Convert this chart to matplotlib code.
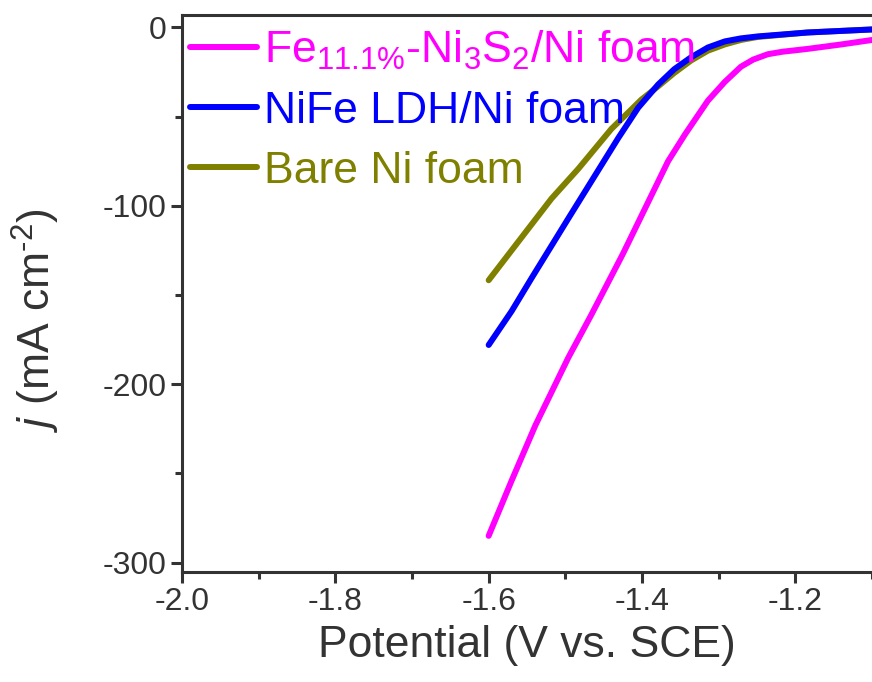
import matplotlib
matplotlib.use("Agg")
import matplotlib.pyplot as plt

# LSV curves (potential in V vs. SCE, j in mA cm^-2)
fe_ni3s2_v = [-1.600, -1.570, -1.539, -1.496, -1.466, -1.425, -1.366, -1.344,
              -1.314, -1.292, -1.271, -1.255, -1.236, -1.217, -1.184, -1.140, -1.100]
fe_ni3s2_j = [-285, -254, -223, -185, -161, -127, -75, -60,
              -41, -30.5, -22, -18, -15, -13.6, -12, -9.5, -7]

nife_v = [-1.600, -1.570, -1.544, -1.496, -1.457, -1.431, -1.405, -1.379,
          -1.358, -1.336, -1.314, -1.292, -1.271, -1.249, -1.184, -1.100]
nife_j = [-178, -159, -140.5, -107, -80, -62, -45, -32,
          -23.4, -16.7, -11.2, -7.8, -6.1, -5.0, -2.8, -1.1]

bare_v = [-1.600, -1.561, -1.518, -1.483, -1.440, -1.414, -1.401, -1.379,
          -1.358, -1.336, -1.314, -1.292, -1.271, -1.249, -1.184, -1.100]
bare_j = [-141.7, -119.9, -95.9, -79.2, -56.9, -46.0, -40.5, -33.0,
          -25.5, -18.5, -13.0, -9.5, -7.0, -5.3, -2.8, -1.1]

labels = [r"Fe$_{11.1\%}$-Ni$_3$S$_2$/Ni foam", "NiFe LDH/Ni foam", "Bare Ni foam"]
colors = ["#ff00ff", "#0000ff", "#808000"]

x_ticks = [-2.0, -1.8, -1.6, -1.4, -1.2]
x_minor = [-1.9, -1.7, -1.5, -1.3, -1.1]
y_ticks = [0, -100, -200, -300]
y_minor = [-50, -150, -250]

plt.rcParams["font.family"] = ["Liberation Sans", "DejaVu Sans"]
plt.rcParams["mathtext.fontset"] = "custom"
plt.rcParams["mathtext.rm"] = "Liberation Sans"
plt.rcParams["mathtext.it"] = "Liberation Sans:italic"
plt.rcParams["axes.unicode_minus"] = False

spine_col = "#333333"

fig = plt.figure(figsize=(8.72, 6.82), dpi=100)
ax = fig.add_axes([0.2087, 0.162, 0.7913, 0.816])

series = [(fe_ni3s2_v, fe_ni3s2_j), (nife_v, nife_j), (bare_v, bare_j)]
# olive first so blue sits on top of it, pink last
for i in [2, 1, 0]:
    v, j = series[i]
    ax.plot(v, j, color=colors[i], lw=4.3, label=labels[i],
            solid_capstyle="round", solid_joinstyle="round")

ax.set_xlim(-2.0, -1.104)
ax.set_ylim(-305, 7)
ax.set_xticks(x_ticks)
ax.set_xticklabels(["%.1f" % t for t in x_ticks])
ax.set_yticks(y_ticks)
ax.set_xticks(x_minor, minor=True)
ax.set_yticks(y_minor, minor=True)

for s in ["left", "bottom", "top"]:
    ax.spines[s].set_linewidth(2.2)
    ax.spines[s].set_color(spine_col)
ax.spines["right"].set_visible(False)

ax.tick_params(which="both", direction="out", color=spine_col, width=2.2,
               labelsize=23, labelcolor=spine_col, top=False, right=False)
ax.tick_params(which="major", length=8, pad=3)
ax.tick_params(which="minor", length=5)

ax.set_xlabel("Potential (V vs. SCE)", fontsize=32, color=spine_col, labelpad=6)
ax.set_ylabel(r"$j$ (mA cm$^{\text{-2}}$)", fontsize=32, color=spine_col)
ax.yaxis.set_label_coords(-0.174, 0.452)

handles, labs = ax.get_legend_handles_labels()
order = [2, 1, 0]
leg = ax.legend([handles[k] for k in order], [labs[k] for k in order],
                loc="upper left", bbox_to_anchor=(0.012, 0.976), frameon=False,
                fontsize=32, handlelength=1.5, handletextpad=0.15,
                labelspacing=0.43, borderpad=0, borderaxespad=0,
                labelcolor="linecolor")

fig.savefig("out.png", dpi=100)
